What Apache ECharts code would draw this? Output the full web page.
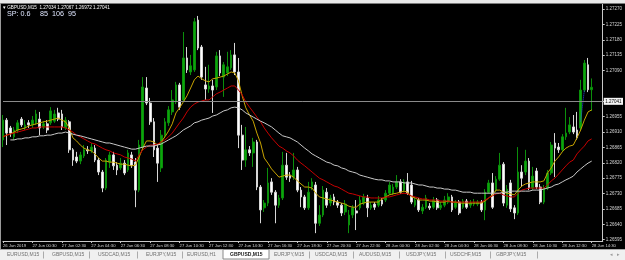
<!DOCTYPE html>
<html><head><meta charset="utf-8">
<script src="https://cdn.jsdelivr.net/npm/echarts@6/dist/echarts.min.js"></script>
<style>html,body{margin:0;padding:0;background:#000;}#c{width:625px;height:260px;}</style>
</head><body><div id="c"></div><script>
const symbolName = 'GBPUSD', timeframe = 'M15';
const timeLabels = ['26 Jun 2019','27 Jun 00:30','27 Jun 02:30','27 Jun 04:30','27 Jun 06:30','27 Jun 08:30','27 Jun 10:30','27 Jun 12:30','27 Jun 14:30','27 Jun 16:30','27 Jun 18:30','27 Jun 20:30','27 Jun 22:30','28 Jun 00:30','28 Jun 02:30','28 Jun 04:30','28 Jun 06:30','28 Jun 08:30','28 Jun 10:30','28 Jun 12:30','28 Jun 14:30'];
const open = [
1.26887,1.26945,1.26922,1.26896,1.26916,1.26948,1.26922,1.26937,1.26931,1.26937,
1.26948,1.26925,1.26934,1.26937,1.26942,1.26966,1.26963,1.26922,1.26940,1.26858,
1.26837,1.26825,1.26840,1.26858,1.26855,1.26863,1.26828,1.26793,1.26746,1.26822,
1.26843,1.26813,1.26805,1.26819,1.26799,1.26843,1.26822,1.26740,1.26866,1.27039,
1.26995,1.26940,1.26863,1.26805,1.26901,1.26937,1.26969,1.26998,1.27048,1.27004,
1.27127,1.27086,1.27092,1.27238,1.27159,1.27048,1.27036,1.27045,1.27042,1.27133,
1.27071,1.27083,1.27098,1.27136,1.27086,1.26901,1.26828,1.26858,1.26849,1.26881,
1.26749,1.26688,1.26702,1.26764,1.26734,1.26696,1.26717,1.26813,1.26784,1.26778,
1.26799,1.26740,1.26720,1.26688,1.26749,1.26755,1.26643,1.26667,1.26734,1.26702,
1.26720,1.26705,1.26696,1.26676,1.26638,1.26667,1.26679,1.26688,1.26702,1.26717,
1.26688,1.26699,1.26696,1.26711,1.26711,1.26731,1.26731,1.26749,1.26764,1.26740,
1.26764,1.26755,1.26696,1.26711,1.26679,1.26690,1.26693,1.26690,1.26711,1.26688,
1.26696,1.26705,1.26720,1.26690,1.26705,1.26690,1.26708,1.26696,1.26699,1.26699,
1.26705,1.26682,1.26734,1.26761,1.26740,1.26772,1.26816,1.26696,1.26761,1.26688,
1.26673,1.26793,1.26793,1.26825,1.26746,1.26796,1.26749,1.26705,1.26746,1.26790,
1.26878,1.26866,1.26858,1.26896,1.26910,1.26925,1.26916,1.26922,1.27033,1.27107,
1.27034];
const close = [
1.26945,1.26907,1.26907,1.26916,1.26937,1.26931,1.26931,1.26931,1.26945,1.26963,
1.26922,1.26934,1.26916,1.26972,1.26963,1.26948,1.26925,1.26945,1.26858,1.26828,
1.26825,1.26843,1.26858,1.26855,1.26866,1.26828,1.26793,1.26746,1.26828,1.26843,
1.26811,1.26799,1.26819,1.26790,1.26849,1.26813,1.26740,1.26872,1.27042,1.26995,
1.26940,1.26858,1.26819,1.26901,1.26940,1.26975,1.27004,1.27048,1.26983,1.27127,
1.27092,1.27104,1.27233,1.27156,1.27071,1.27036,1.27045,1.27033,1.27133,1.27083,
1.27107,1.27101,1.27136,1.27086,1.26901,1.26828,1.26858,1.26849,1.26881,1.26749,
1.26682,1.26702,1.26761,1.26734,1.26696,1.26717,1.26813,1.26778,1.26775,1.26799,
1.26740,1.26720,1.26688,1.26734,1.26764,1.26643,1.26667,1.26740,1.26696,1.26717,
1.26705,1.26696,1.26673,1.26699,1.26667,1.26688,1.26673,1.26711,1.26720,1.26688,
1.26696,1.26690,1.26711,1.26699,1.26731,1.26755,1.26749,1.26764,1.26734,1.26764,
1.26731,1.26705,1.26711,1.26682,1.26690,1.26717,1.26688,1.26711,1.26688,1.26696,
1.26711,1.26720,1.26682,1.26705,1.26673,1.26708,1.26690,1.26702,1.26705,1.26705,
1.26682,1.26734,1.26761,1.26690,1.26772,1.26813,1.26702,1.26743,1.26685,1.26673,
1.26793,1.26775,1.26825,1.26746,1.26781,1.26749,1.26705,1.26746,1.26790,1.26872,
1.26863,1.26858,1.26896,1.26907,1.26931,1.26910,1.26893,1.27033,1.27112,1.27034,
1.27041];
const low = [
1.26866,1.26872,1.26896,1.26887,1.26907,1.26925,1.26916,1.26922,1.26922,1.26931,
1.26901,1.26919,1.26907,1.26931,1.26937,1.26942,1.26916,1.26916,1.26849,1.26811,
1.26819,1.26816,1.26834,1.26846,1.26849,1.26822,1.26784,1.26734,1.26740,1.26805,
1.26799,1.26784,1.26799,1.26784,1.26793,1.26805,1.26690,1.26734,1.26858,1.26989,
1.26931,1.26837,1.26764,1.26793,1.26893,1.26928,1.26960,1.26992,1.26975,1.26998,
1.27083,1.27077,1.27086,1.27150,1.27063,1.27004,1.27025,1.26966,1.27033,1.27074,
1.27013,1.27074,1.27092,1.27077,1.26863,1.26799,1.26808,1.26840,1.26808,1.26740,
1.26643,1.26676,1.26693,1.26726,1.26643,1.26688,1.26711,1.26770,1.26764,1.26770,
1.26734,1.26690,1.26682,1.26682,1.26740,1.26614,1.26635,1.26661,1.26688,1.26693,
1.26696,1.26688,1.26664,1.26667,1.26614,1.26658,1.26623,1.26682,1.26696,1.26661,
1.26682,1.26682,1.26690,1.26693,1.26705,1.26726,1.26726,1.26743,1.26729,1.26734,
1.26726,1.26699,1.26690,1.26676,1.26670,1.26685,1.26682,1.26685,1.26682,1.26682,
1.26690,1.26699,1.26676,1.26685,1.26667,1.26685,1.26685,1.26688,1.26693,1.26693,
1.26676,1.26652,1.26729,1.26685,1.26734,1.26767,1.26693,1.26688,1.26676,1.26655,
1.26667,1.26749,1.26784,1.26740,1.26740,1.26743,1.26699,1.26699,1.26740,1.26784,
1.26778,1.26849,1.26852,1.26887,1.26904,1.26904,1.26887,1.26916,1.27027,1.27027,
1.26972];
const high = [
1.26960,1.26951,1.26928,1.26925,1.26945,1.26954,1.26945,1.26945,1.26957,1.26975,
1.26969,1.26942,1.26945,1.26983,1.26975,1.26981,1.26975,1.26954,1.26945,1.26863,
1.26852,1.26852,1.26872,1.26869,1.26878,1.26872,1.26834,1.26799,1.26834,1.26852,
1.26852,1.26822,1.26834,1.26828,1.26858,1.26852,1.26834,1.26887,1.27071,1.27071,
1.27010,1.26951,1.26875,1.26916,1.26951,1.26986,1.27033,1.27057,1.27054,1.27203,
1.27159,1.27136,1.27244,1.27250,1.27165,1.27101,1.27107,1.27063,1.27145,1.27150,
1.27115,1.27145,1.27150,1.27171,1.27127,1.26931,1.26925,1.26869,1.26893,1.26887,
1.26755,1.26711,1.26805,1.26775,1.26740,1.26726,1.26852,1.26849,1.26793,1.26849,
1.26808,1.26749,1.26726,1.26764,1.26775,1.26764,1.26696,1.26752,1.26746,1.26726,
1.26729,1.26711,1.26702,1.26711,1.26682,1.26696,1.26711,1.26723,1.26729,1.26726,
1.26705,1.26705,1.26723,1.26717,1.26740,1.26764,1.26758,1.26784,1.26772,1.26772,
1.26790,1.26767,1.26720,1.26717,1.26699,1.26726,1.26702,1.26720,1.26717,1.26705,
1.26723,1.26731,1.26726,1.26711,1.26711,1.26714,1.26714,1.26711,1.26714,1.26711,
1.26711,1.26743,1.26770,1.26790,1.26781,1.26849,1.26822,1.26755,1.26770,1.26696,
1.26866,1.26813,1.26858,1.26834,1.26808,1.26805,1.26758,1.26755,1.26799,1.26881,
1.26907,1.26878,1.26904,1.26981,1.26954,1.26960,1.26969,1.27063,1.27121,1.27127,
1.27067];
const maFast = [
1.26896,1.26901,1.26904,1.26910,1.26916,1.26919,1.26922,1.26928,1.26931,1.26934,
1.26937,1.26940,1.26942,1.26945,1.26948,1.26951,1.26945,1.26940,1.26922,1.26893,
1.26884,1.26872,1.26863,1.26858,1.26855,1.26846,1.26834,1.26825,1.26825,1.26822,
1.26822,1.26819,1.26816,1.26816,1.26813,1.26811,1.26813,1.26837,1.26863,1.26884,
1.26884,1.26881,1.26872,1.26881,1.26896,1.26913,1.26934,1.26966,1.26981,1.26998,
1.27016,1.27039,1.27063,1.27074,1.27066,1.27060,1.27057,1.27066,1.27068,1.27071,
1.27074,1.27080,1.27086,1.27083,1.27060,1.27016,1.26981,1.26960,1.26942,1.26907,
1.26878,1.26834,1.26819,1.26802,1.26790,1.26778,1.26781,1.26784,1.26784,1.26778,
1.26767,1.26758,1.26749,1.26749,1.26746,1.26731,1.26720,1.26717,1.26714,1.26711,
1.26708,1.26705,1.26702,1.26699,1.26693,1.26690,1.26690,1.26699,1.26702,1.26705,
1.26705,1.26705,1.26705,1.26714,1.26720,1.26726,1.26729,1.26731,1.26734,1.26737,
1.26734,1.26720,1.26717,1.26711,1.26711,1.26711,1.26708,1.26708,1.26705,1.26705,
1.26705,1.26708,1.26705,1.26705,1.26702,1.26702,1.26702,1.26702,1.26702,1.26702,
1.26702,1.26708,1.26717,1.26726,1.26740,1.26740,1.26734,1.26731,1.26729,1.26726,
1.26740,1.26752,1.26758,1.26761,1.26764,1.26764,1.26764,1.26767,1.26790,1.26805,
1.26825,1.26837,1.26852,1.26863,1.26869,1.26872,1.26893,1.26916,1.26945,1.26969,
1.26975];
const maMid = [
1.26896,1.26901,1.26904,1.26907,1.26910,1.26913,1.26916,1.26919,1.26922,1.26922,
1.26925,1.26925,1.26925,1.26925,1.26925,1.26925,1.26925,1.26922,1.26916,1.26910,
1.26901,1.26896,1.26890,1.26884,1.26878,1.26875,1.26869,1.26863,1.26858,1.26855,
1.26849,1.26846,1.26843,1.26837,1.26834,1.26831,1.26825,1.26843,1.26858,1.26866,
1.26872,1.26872,1.26875,1.26881,1.26887,1.26896,1.26907,1.26922,1.26937,1.26951,
1.26969,1.26983,1.26992,1.26998,1.27001,1.27004,1.27004,1.27013,1.27022,1.27027,
1.27033,1.27039,1.27045,1.27045,1.27033,1.27019,1.26998,1.26983,1.26969,1.26954,
1.26940,1.26922,1.26907,1.26893,1.26881,1.26869,1.26863,1.26855,1.26849,1.26840,
1.26828,1.26819,1.26811,1.26802,1.26793,1.26784,1.26775,1.26770,1.26764,1.26758,
1.26752,1.26749,1.26743,1.26737,1.26731,1.26729,1.26726,1.26723,1.26720,1.26720,
1.26717,1.26717,1.26717,1.26717,1.26720,1.26720,1.26723,1.26726,1.26729,1.26731,
1.26729,1.26723,1.26720,1.26717,1.26714,1.26714,1.26711,1.26711,1.26711,1.26708,
1.26708,1.26708,1.26705,1.26705,1.26705,1.26705,1.26705,1.26705,1.26705,1.26705,
1.26705,1.26711,1.26717,1.26723,1.26729,1.26731,1.26726,1.26723,1.26720,1.26720,
1.26731,1.26740,1.26743,1.26746,1.26746,1.26746,1.26746,1.26746,1.26755,1.26767,
1.26775,1.26787,1.26799,1.26811,1.26822,1.26828,1.26846,1.26858,1.26869,1.26884,
1.26890];
const maSlow = [
null,null,1.26887,1.26887,1.26890,1.26890,1.26893,1.26893,1.26896,1.26896,
1.26899,1.26899,1.26901,1.26901,1.26904,1.26907,1.26907,1.26910,1.26907,1.26904,
1.26901,1.26899,1.26896,1.26893,1.26890,1.26887,1.26884,1.26881,1.26878,1.26878,
1.26875,1.26872,1.26869,1.26866,1.26863,1.26860,1.26860,1.26863,1.26866,1.26869,
1.26869,1.26869,1.26872,1.26875,1.26881,1.26887,1.26893,1.26899,1.26907,1.26916,
1.26922,1.26928,1.26937,1.26940,1.26945,1.26948,1.26951,1.26957,1.26960,1.26966,
1.26972,1.26975,1.26981,1.26983,1.26981,1.26975,1.26966,1.26960,1.26954,1.26948,
1.26942,1.26937,1.26931,1.26925,1.26916,1.26907,1.26899,1.26896,1.26893,1.26887,
1.26881,1.26872,1.26863,1.26855,1.26846,1.26840,1.26834,1.26828,1.26822,1.26819,
1.26813,1.26811,1.26805,1.26802,1.26796,1.26793,1.26790,1.26784,1.26781,1.26778,
1.26775,1.26772,1.26770,1.26770,1.26767,1.26767,1.26764,1.26764,1.26764,1.26761,
1.26761,1.26761,1.26758,1.26755,1.26755,1.26752,1.26749,1.26749,1.26746,1.26746,
1.26743,1.26743,1.26740,1.26740,1.26737,1.26734,1.26734,1.26734,1.26731,1.26731,
1.26731,1.26731,1.26731,1.26731,1.26731,1.26731,1.26734,1.26734,1.26737,1.26737,
1.26737,1.26737,1.26737,1.26737,1.26740,1.26740,1.26740,1.26743,1.26746,1.26749,
1.26755,1.26758,1.26764,1.26770,1.26775,1.26781,1.26793,1.26802,1.26811,1.26819,
1.26825];
const yTicks = [1.26595,1.26640,1.26685,1.26730,1.26775,1.26820,1.26865,1.26910,1.26955,1.27000,1.27090,1.27135,1.27180,1.27225,1.27270];
const currentPrice = 1.27041;
const spreadInfo = ['SP: 0.6', '85', '106', '95'];
const tradeBars = [157, 158];
const tradePrices = [1.26941, 1.27033];
const tabs = ['EURUSD,M15','GBPUSD,M15','USDCAD,M15','EURJPY,M15','EURUSD,H1','GBPUSD,M15','EURJPY,M15','USDCAD,M15','AUDUSD,M15','USDJPY,M15','USDCHF,M15','GBPJPY,M15'];
const activeTab = 5;
const shiftBars = 3;

// layout
const tabX = [7,52,98,146,187,230,274,315,359,406,450,496];
const sepX = [43,89,137,182,309,353,399,445,490,537];

const nBars = open.length;
const cats = Array.from({length: nBars + shiftBars}, (_, i) => String(i));
const candles = open.map((o, i) => [o, close[i], low[i], high[i]]);
const last = nBars - 1;
const titleText = '\u25BE ' + symbolName + ',' + timeframe + '  ' +
  [open[last], high[last], low[last], close[last]].map(v => v.toFixed(5)).join(' ');

const FONT = '"Liberation Sans", Arial, sans-serif';
const graphics = [
  {type:'rect', shape:{x:0,y:0,width:625,height:3}, style:{fill:'#e9e9e9'}, z:100, silent:true},
  {type:'rect', shape:{x:0,y:3,width:625,height:1}, style:{fill:'#7c7c7c'}, z:100, silent:true},
  {type:'rect', shape:{x:0,y:3,width:1,height:246}, style:{fill:'#9a9a9a'}, z:100, silent:true},
  {type:'text', x:3, y:7.5, style:{text:titleText, fill:'#ffffff', font:'4.6px ' + FONT, textVerticalAlign:'middle'}, z:100, silent:true},
  {type:'text', x:7, y:13.8, style:{text:spreadInfo[0], fill:'#dfe6ff', font:'7.2px ' + FONT, textVerticalAlign:'middle'}, z:100, silent:true},
  {type:'text', x:40, y:13.8, style:{text:spreadInfo.slice(1).join('  '), fill:'#dfe6ff', font:'7.2px ' + FONT, textVerticalAlign:'middle'}, z:100, silent:true},
  {type:'rect', shape:{x:0,y:249,width:625,height:11}, style:{fill:'#f0f0f0'}, z:100, silent:true},
  {type:'rect', shape:{x:0,y:249,width:625,height:1}, style:{fill:'#a8a8a8'}, z:100, silent:true},
  {type:'rect', shape:{x:223,y:249.5,width:46,height:9.5}, style:{fill:'#ffffff', stroke:'#8a8a8a', lineWidth:1}, z:101, silent:true},
  {type:'text', x:610, y:255, style:{text:'\u25C2', fill:'#9a9a9a', font:'5px ' + FONT, textVerticalAlign:'middle'}, z:102, silent:true},
  {type:'text', x:617, y:255, style:{text:'\u25B8', fill:'#9a9a9a', font:'5px ' + FONT, textVerticalAlign:'middle'}, z:102, silent:true}
];
tabs.forEach((t, i) => {
  graphics.push({type:'text', x:tabX[i], y:255, style:{text:t, fill: i === activeTab ? '#202020' : '#707070',
    font: (i === activeTab ? 'bold ' : '') + '5px ' + FONT, textVerticalAlign:'middle'}, z:102, silent:true});
});
sepX.forEach(x => {
  graphics.push({type:'rect', shape:{x:x,y:251.5,width:0.8,height:7}, style:{fill:'#9a9a9a'}, z:102, silent:true});
});

const chart = echarts.init(document.getElementById('c'), null, {renderer:'canvas'});
chart.setOption({
  backgroundColor: '#000000',
  animation: false,
  grid: {left: 2.7, right: 20.3, top: 4, bottom: 19},
  xAxis: {
    type: 'category', data: cats, boundaryGap: false,
    axisLine: {show: true, lineStyle: {color: '#c8c8c8', width: 1}},
    axisTick: {show: true, length: 2, interval: (i) => i % 8 === 0 && i <= last, lineStyle: {color: '#c8c8c8'}},
    axisLabel: {show: true, interval: (i) => i % 8 === 0 && i <= last, align: 'left',
      formatter: (v, i) => timeLabels[Math.round(Number(v) / 8)] || '',
      color: '#d4d4d4', fontSize: 4.2, fontFamily: FONT, margin: 2.5},
    splitLine: {show: false}
  },
  yAxis: {
    type: 'value', position: 'right', min: 1.26591, max: 1.27285, scale: true,
    axisLine: {show: true, lineStyle: {color: '#c8c8c8', width: 1}},
    axisTick: {show: true, length: 2, customValues: yTicks, lineStyle: {color: '#c8c8c8'}},
    axisLabel: {show: true, customValues: yTicks, formatter: v => Number(v).toFixed(5),
      color: '#d4d4d4', fontSize: 4.5, fontFamily: FONT, margin: 3},
    splitLine: {show: false}
  },
  series: [
    {
      type: 'candlestick', name: symbolName, data: candles, barWidth: 2.2, clip: false,
      itemStyle: {color: '#0aa80a', color0: '#ffffff', borderColor: '#0b8f0b', borderColor0: '#d6d6d6', borderWidth: 1},
      markLine: {
        symbol: ['none', 'none'], silent: true, animation: false,
        data: [{yAxis: currentPrice}],
        lineStyle: {color: '#8a8a8a', width: 1, type: 'solid', opacity: 1},
        label: {show: true, position: 'end', distance: 1, formatter: () => currentPrice.toFixed(5),
          color: '#000000', backgroundColor: '#f4f4f4', padding: [1, 1.5], fontSize: 4.5, fontFamily: FONT}
      },
      z: 2
    },
    {type: 'line', name: 'MA fast', data: maFast, symbol: 'none', lineStyle: {color: '#c9a400', width: 1}, z: 3},
    {type: 'line', name: 'MA mid', data: maMid, symbol: 'none', lineStyle: {color: '#c80000', width: 1}, z: 3},
    {type: 'line', name: 'MA slow', data: maSlow, symbol: 'none', connectNulls: false, lineStyle: {color: '#c8c8c8', width: 1}, z: 3},
    {type: 'line', name: 'trade', data: tradeBars.map((b, i) => ({value: [b, tradePrices[i]], itemStyle: {color: i === 0 ? '#3c6cff' : '#ffb030'}})),
      symbol: 'triangle', symbolSize: 4, symbolRotate: 90, lineStyle: {color: '#3050ff', width: 1, type: 'dotted'}, z: 4}
  ],
  graphic: {elements: graphics}
});
</script></body></html>
